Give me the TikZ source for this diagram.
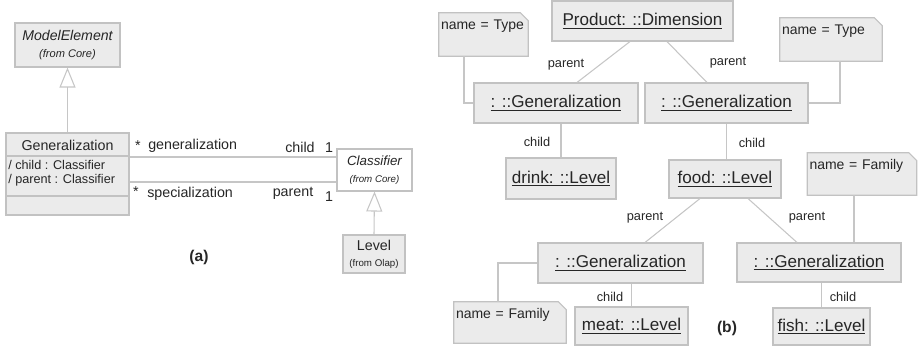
\documentclass[tikz,border=0pt]{standalone}
\usepackage{fontspec}
\setmainfont{Liberation Sans}
\usetikzlibrary{arrows.meta,backgrounds}

\definecolor{boxfill}{HTML}{EBEBEB}
\definecolor{boxline}{HTML}{C2C2C2}
\definecolor{wire}{HTML}{C6C6C6}
\definecolor{ink}{HTML}{262626}

\newcommand\fsz[2]{\fontsize{#1}{#2}\selectfont}

\tikzset{
  classbox/.style={draw=boxline, fill=boxfill, line width=0.8pt, inner sep=0pt, text=ink},
  objbox/.style={draw=boxline, fill=boxfill, line width=0.8pt, inner sep=0pt, text=ink,
                 font=\fsz{12.8}{15}},
  notebox/.style={inner xsep=1.5pt, inner ysep=3pt, text height=9pt, align=left, text=ink,
                  font=\fsz{10.5}{13}},
  notefold/.style={draw=boxline, fill=boxfill, line width=0.8pt},
  wireline/.style={draw=wire, line width=0.8pt},
  gentri/.style={wireline, -{Triangle[open, length=15pt, width=12pt, line width=0.8pt]}},
  lbl/.style={inner sep=0pt, text=ink},
  rolelbl/.style={inner sep=0pt, text=ink, font=\fsz{9.6}{11}},
  caption/.style={inner sep=0pt, text=ink, font=\bfseries\fsz{11.7}{14}},
}

\begin{document}
\begin{tikzpicture}[x=0.75pt, y=-0.75pt]
\useasboundingbox (0,0) rectangle (921,351);

% ---------------- (a) metamodel ----------------
\node[classbox, minimum width=78.75pt, minimum height=33pt, align=center] (me) at (67.5,45)
  {{\itshape\fsz{10.6}{13}ModelElement}\\[1pt]{\itshape\fsz{8.3}{10}(from Core)}};

\node[classbox, minimum width=92.25pt, minimum height=61.5pt] (gen) at (67.5,174) {};
\draw[boxline, line width=0.8pt] (gen.west |- 0,156) -- (gen.east |- 0,156);
\draw[boxline, line width=0.8pt] (gen.west |- 0,196) -- (gen.east |- 0,196);
\node[lbl, font=\fsz{10.7}{13}] (genname) at (67.5,145) {Generalization};
\node[lbl, font=\fsz{9.5}{11}, anchor=west] (attrchild) at (8,165) {/ child : Classifier};
\node[lbl, font=\fsz{9.5}{11}, anchor=west] (attrparent) at (8,180) {/ parent : Classifier};

\node[classbox, fill=white, minimum width=56.25pt, minimum height=31.5pt, align=center] (cls) at (374.5,170)
  {{\itshape\fsz{10}{12}Classifier}\\[1pt]{\itshape\fsz{7.3}{9}(from Core)}};

\node[classbox, minimum width=46.5pt, minimum height=28.5pt, align=center] (lvl) at (374,254)
  {{\fsz{10.7}{12}Level}\\[0pt]{\fsz{7.3}{9}(from Olap)}};

\draw[gentri] (gen.north) -- (me.south);
\draw[gentri] (lvl.north) -- (cls.south);

\draw[wireline] ([yshift=12.75pt]gen.east) -- ([yshift=12.75pt]gen.east -| cls.west);
\draw[wireline] ([yshift=-6pt]gen.east) -- ([yshift=-6pt]gen.east -| cls.west);

\node[lbl, font=\fsz{10.7}{13}] (m1) at (138,146) {*};
\node[lbl, font=\fsz{10.7}{13}, anchor=west] (rgen) at (148,146) {generalization};
\node[lbl, font=\fsz{10.7}{13}] (rchild) at (300,147) {child};
\node[lbl, font=\fsz{10.7}{13}] (c1) at (329,148) {1};
\node[lbl, font=\fsz{10.7}{13}] (m2) at (136,192) {*};
\node[lbl, font=\fsz{10.7}{13}, anchor=west] (rspec) at (147,194) {specialization};
\node[lbl, font=\fsz{10.7}{13}] (rparent) at (293,193) {parent};
\node[lbl, font=\fsz{10.7}{13}] (c2) at (329,197) {1};

\node[caption] (capa) at (199,257) {(a)};

% ---------------- (b) instance ----------------
\node[objbox, minimum width=135.75pt, minimum height=30pt] (prod) at (642.5,21) {\underline{Product: ::Dimension}};
\node[objbox, minimum width=123pt, minimum height=30pt] (g1) at (556,103) {\underline{: ::Generalization}};
\node[objbox, minimum width=122.25pt, minimum height=30pt] (g2) at (726.5,103) {\underline{: ::Generalization}};
\node[objbox, minimum width=82.5pt, minimum height=30.75pt] (drink) at (561,178.5) {\underline{drink: ::Level}};
\node[objbox, minimum width=84pt, minimum height=28.5pt] (food) at (725,179) {\underline{food: ::Level}};
\node[objbox, minimum width=123.75pt, minimum height=30pt] (g3) at (620.5,263) {\underline{: ::Generalization}};
\node[objbox, minimum width=123pt, minimum height=29.25pt] (g4) at (819,262.5) {\underline{: ::Generalization}};
\node[objbox, minimum width=84.75pt, minimum height=28.5pt] (meat) at (631.5,326) {\underline{meat: ::Level}};
\node[objbox, minimum width=72.75pt, minimum height=27.75pt] (fish) at (821.5,326.5) {\underline{fish: ::Level}};

% notes: text sits at the top left, outline drawn behind
\node[notebox, text width=63.75pt, text depth=17.25pt] (nt1) at (483.5,34.5) {name = Type};
\node[notebox, text width=73.5pt, text depth=17.25pt] (nt2) at (831,39.5) {name = Type};
\node[notebox, text width=78.75pt, text depth=16.5pt] (nf1) at (862,174) {name = Family};
\node[notebox, text width=81pt, text depth=15.75pt] (nf2) at (510,322.5) {name = Family};

\begin{scope}[on background layer]
  \foreach \n in {nt1,nt2,nf1,nf2} {
    \draw[notefold] (\n.south west) -- (\n.north west) -- ([xshift=-6pt]\n.north east)
      -- ([yshift=-6pt]\n.north east) -- (\n.south east) -- cycle;
  }
\end{scope}

% links
\draw[wireline] ([xshift=-9.375pt]prod.south) -- ([xshift=15.75pt]g1.north);
\draw[wireline] ([xshift=18.375pt]prod.south) -- ([xshift=-14.625pt]g2.north);
\draw[wireline] ([xshift=-14.625pt]nt1.south) |- (g1.west);
\draw[wireline] ([xshift=6.75pt]nt2.south) |- (g2.east);
\draw[wireline] (drink.north |- g1.south) -- (drink.north);
\draw[wireline] (g2.south) -- (g2.south |- food.north);
\draw[wireline] ([xshift=-18.75pt]food.south) -- ([xshift=18.375pt]g3.north);
\draw[wireline] ([xshift=17.25pt]food.south) -- ([xshift=-16.5pt]g4.north);
\draw[wireline] ([xshift=-6pt]nf1.south) -- ([xshift=-6pt]nf1.south |- g4.north);
\draw[wireline] (g3.west) -| ([xshift=-9pt]nf2.north);
\draw[wireline] (meat.north |- g3.south) -- (meat.north);
\draw[wireline] (fish.north |- g4.south) -- (fish.north);

\node[rolelbl] (p1) at (566,65) {parent};
\node[rolelbl] (p2) at (728,63) {parent};
\node[rolelbl] (ch1) at (537,142) {child};
\node[rolelbl] (ch2) at (752,143) {child};
\node[rolelbl] (p3) at (645,218) {parent};
\node[rolelbl] (p4) at (807,218) {parent};
\node[rolelbl] (ch3) at (610,297) {child};
\node[rolelbl] (ch4) at (843,297) {child};

\node[caption] (capb) at (727,328) {(b)};
\end{tikzpicture}
\end{document}
